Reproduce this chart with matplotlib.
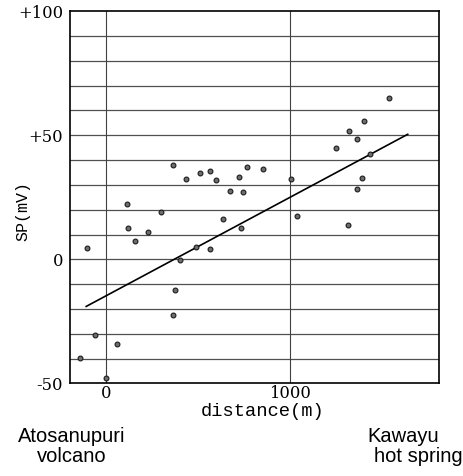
"""SP profile between Atosanupuri volcano and Kawayu hot spring."""

import matplotlib
matplotlib.use("Agg")
import matplotlib.pyplot as plt
import numpy as np

# distance along profile (m) and self-potential (mV)
distance_m = np.array([
    -142, -102, -59, -1, 61, 112, 121, 160, 228, 300,
    366, 367, 374, 405, 435, 487, 514, 565, 565, 596,
    637, 676, 722, 736, 746, 765, 855, 1006, 1039, 1252,
    1315, 1325, 1365, 1367, 1395, 1405, 1435, 1538,
])
sp_mv = np.array([
    -39.7, 4.6, -30.5, -47.9, -34.0, 22.4, 12.7, 7.2, 10.9, 19.2,
    37.9, -22.6, -12.4, -0.1, 32.3, 4.8, 34.9, 35.7, 4.3, 32.0,
    16.1, 27.7, 33.3, 12.5, 27.3, 37.1, 36.4, 32.5, 17.6, 44.7,
    13.8, 51.8, 48.4, 28.5, 32.8, 55.8, 42.4, 65.0,
])

# regression line end points
fit_x = np.array([-108, 1642])
fit_y = np.array([-19.0, 50.4])

y_ticks = [100, 50, 0, -50]
y_ticklabels = ["+100", "+50", "0", "-50"]
x_ticks = [0, 1000]
x_ticklabels = ["0", "1000"]
grid_levels = np.arange(-40, 100, 10)

MONO = "Liberation Mono"
SERIF = "DejaVu Serif"
SANS = "Liberation Sans"

fig = plt.figure(figsize=(4.64, 4.76), dpi=100)
ax = fig.add_axes([0.1509, 0.1947, 0.7951, 0.7816])

ax.set_xlim(-196, 1812)
ax.set_ylim(-50, 100)

for lvl in grid_levels:
    ax.axhline(lvl, color="#505050", linewidth=0.9, zorder=1)
for xv in x_ticks:
    ax.axvline(xv, color="#404040", linewidth=0.8, zorder=1)

ax.plot(fit_x, fit_y, color="black", linewidth=1.2, zorder=2)
ax.scatter(distance_m, sp_mv, s=12, facecolor="#6e6e6e", edgecolor="#1a1a1a",
           linewidths=0.8, zorder=3)

ax.set_yticks(y_ticks)
ax.set_yticklabels(y_ticklabels, family=SERIF, fontsize=11.8)
ax.set_xticks(x_ticks)
ax.set_xticklabels(x_ticklabels, family=SERIF, fontsize=11.8)
ax.tick_params(axis="y", length=0, pad=5)
ax.tick_params(axis="x", length=0, pad=1.5)

ax.set_xlabel("distance(m)", family=MONO, fontsize=13.5)
ax.xaxis.set_label_coords(0.523, -0.054)
ax.set_ylabel("SP(mV)", family=MONO, fontsize=12)
ax.yaxis.set_label_coords(-0.108, 0.463)

for sp in ax.spines.values():
    sp.set_linewidth(1.2)
    sp.set_color("black")

fig.text(72 / 464, 1 - 437 / 476, "Atosanupuri", family=SANS, fontsize=14.5,
         ha="center", va="center")
fig.text(72 / 464, 1 - 457 / 476, "volcano", family=SANS, fontsize=14.5,
         ha="center", va="center")
fig.text(403 / 464, 1 - 437 / 476, "Kawayu", family=SANS, fontsize=14.5,
         ha="center", va="center")
fig.text(418 / 464, 1 - 457 / 476, "hot spring", family=SANS, fontsize=14.5,
         ha="center", va="center")

fig.savefig("out.png", dpi=100)
